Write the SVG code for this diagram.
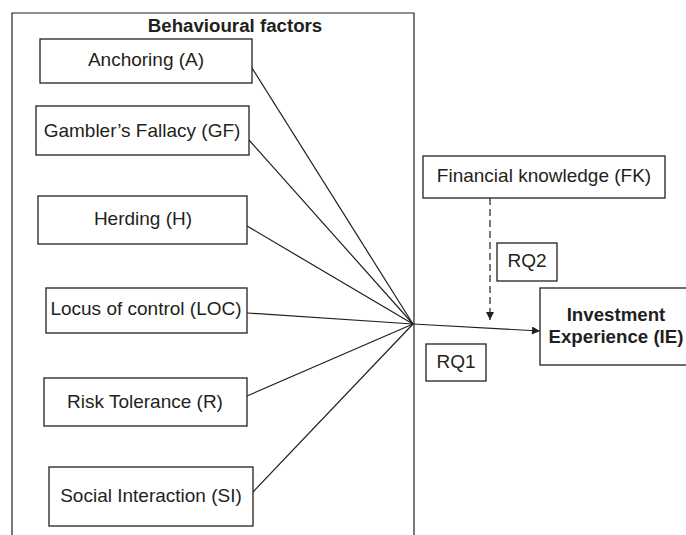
<svg xmlns="http://www.w3.org/2000/svg" width="686" height="535" viewBox="0 0 686 535">
<defs>
<style>
.box{fill:#fff;stroke:#231f20;stroke-width:1.3}
.ln{fill:none;stroke:#231f20;stroke-width:1.2}
.t{font-family:"Liberation Sans",Arial,sans-serif;font-size:19px;fill:#231f20;text-anchor:middle}
.b{font-weight:bold;font-size:18.7px}
</style>
<marker id="ah" viewBox="0 0 10 10" refX="10" refY="5" markerWidth="10" markerHeight="8" markerUnits="userSpaceOnUse" orient="auto">
<path d="M0,0 L10,5 L0,10 Z" fill="#231f20"/>
</marker>
</defs>
<rect width="686" height="535" fill="#fff"/>
<g id="behavioural-factors">
<path class="ln" d="M12,540 V13 H414 V540"/>
<text class="t b" x="235" y="32">Behavioural factors</text>
</g>
<g id="connectors">
<line class="ln" x1="252" y1="68" x2="413" y2="324"/>
<line class="ln" x1="249" y1="140" x2="413" y2="324"/>
<line class="ln" x1="247" y1="226" x2="413" y2="324"/>
<line class="ln" x1="247" y1="313" x2="413" y2="324"/>
<line class="ln" x1="247" y1="396" x2="413" y2="324"/>
<line class="ln" x1="253" y1="492" x2="413" y2="324"/>
<line class="ln" x1="413" y1="324" x2="540" y2="331" marker-end="url(#ah)"/>
<line class="ln" x1="490" y1="198" x2="490" y2="320" stroke-dasharray="7,4" marker-end="url(#ah)"/>
</g>
<g id="anchoring">
<rect class="box" x="40" y="39" width="212" height="44"/>
<text class="t" x="146" y="66">Anchoring (A)</text>
</g>
<g id="gamblers-fallacy">
<rect class="box" x="36" y="106" width="213" height="49"/>
<text class="t" x="142" y="137">Gambler’s Fallacy (GF)</text>
</g>
<g id="herding">
<rect class="box" x="38" y="196" width="209" height="48"/>
<text class="t" x="143" y="225">Herding (H)</text>
</g>
<g id="locus-of-control">
<rect class="box" x="46" y="288" width="201" height="45"/>
<text class="t" x="146" y="315">Locus of control (LOC)</text>
</g>
<g id="risk-tolerance">
<rect class="box" x="44" y="378" width="203" height="48"/>
<text class="t" x="145" y="408">Risk Tolerance (R)</text>
</g>
<g id="social-interaction">
<rect class="box" x="49" y="467" width="204" height="59"/>
<text class="t" x="151" y="502">Social Interaction (SI)</text>
</g>
<g id="financial-knowledge">
<rect class="box" x="423" y="156" width="242" height="42"/>
<text class="t" x="544" y="182">Financial knowledge (FK)</text>
</g>
<g id="rq2">
<rect class="box" x="497" y="243" width="60" height="38"/>
<text class="t" x="527" y="267">RQ2</text>
</g>
<g id="rq1">
<rect class="box" x="426" y="344" width="60" height="37"/>
<text class="t" x="456" y="368">RQ1</text>
</g>
<g id="investment-experience">
<rect class="box" x="540" y="288" width="160" height="77"/>
<text class="t b" x="616" y="321">Investment</text>
<text class="t b" x="616" y="343">Experience (IE)</text>
</g>
</svg>
